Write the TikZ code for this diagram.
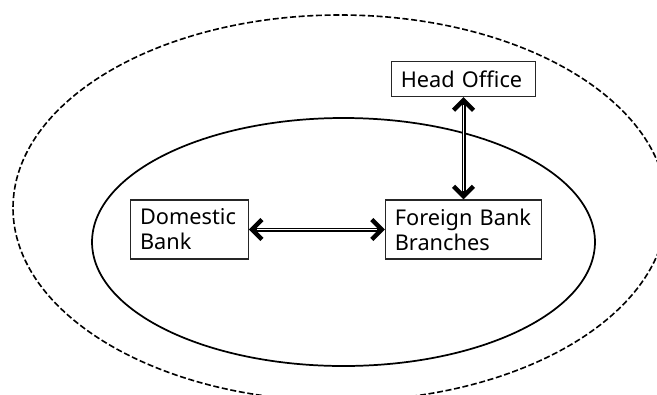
\documentclass[tikz,border=0pt]{standalone}
\usepackage{fontspec}
\setmainfont{Noto Sans}
\usetikzlibrary{arrows.meta}
\tikzset{
  box/.style={draw=black!85, line width=0.8pt, rectangle, align=left, inner xsep=7pt, inner ysep=0pt,
    font=\fontsize{16.3pt}{18.75pt}\selectfont},
  link/.style={line width=3pt, {Straight Barb[length=7.5pt,width=15pt,line width=3.4pt]}-{Straight Barb[length=7.5pt,width=15pt,line width=3.4pt]}},
  linkgap/.style={white, line width=1.2pt, shorten <=6pt, shorten >=6pt},
  outerring/.style={line width=1.2pt, dash pattern=on 4.5pt off 2pt},
  innerring/.style={line width=1.3pt}
}
\begin{document}
\begin{tikzpicture}[x=0.75pt, y=-0.75pt]
\useasboundingbox (0,0) rectangle (657,394);
\clip (0,0) rectangle (657,394);
\draw[outerring] (340,208) ellipse [x radius=245.25pt, y radius=144.75pt];
\draw[innerring] (343.5,242) ellipse [x radius=188.6pt, y radius=93pt];
\node[box, text width=74.1pt, minimum height=44.25pt] (dom) at (189.5,229.5) {Domestic\\Bank};
\node[box, text width=103pt, minimum height=44.25pt] (for) at (463.5,229.5) {Foreign Bank\\Branches};
\node[box, text width=94pt, minimum height=26.25pt] (head) at (463.5,79) {Head Office};
\draw[link] (dom) -- (for);
\draw[linkgap] (dom) -- (for);
\draw[link] (head) -- (for);
\draw[linkgap] (head) -- (for);
\end{tikzpicture}
\end{document}
